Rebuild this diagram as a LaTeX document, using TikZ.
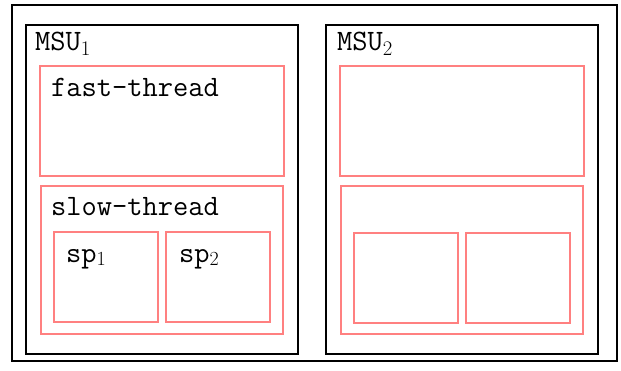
\documentclass[tikz,border=0pt]{standalone}
\begin{document}
\begin{tikzpicture}[x=1pt,y=-1pt,
  blk/.style={draw=black,line width=2.6pt},
  pnk/.style={draw=red!50,line width=2.2pt},
  lbl/.style={anchor=base west,inner sep=0pt,font=\fontsize{29.6}{34}\selectfont\ttfamily}]
\useasboundingbox (0,0) rectangle (621,371);
\fill[white] (0,0) rectangle (621,371);
% outer
\draw[blk] (12,5) rectangle (617,361);
% MSU1
\draw[blk] (26,25) rectangle (298,354);
\draw[pnk] (40,66) rectangle (284,176);
\draw[pnk] (41,186) rectangle (283,334);
\draw[pnk] (54,232) rectangle (158,322);
\draw[pnk] (166,232) rectangle (270,322);
% MSU2
\draw[blk] (326,25) rectangle (598,354);
\draw[pnk] (340,66) rectangle (584,176);
\draw[pnk] (341,186) rectangle (583,334);
\draw[pnk] (354,233) rectangle (458,323);
\draw[pnk] (466,233) rectangle (570,323);
% labels
\node[lbl] (m1) at (35,51) {MSU$_1$};
\node[lbl] (m2) at (337,51) {MSU$_2$};
\node[lbl] (ft) at (51,97) {fast-thread};
\node[lbl] (st) at (51,216) {slow-thread};
\node[lbl] (s1) at (66,263) {sp\textrm{\fontsize{20}{20}\selectfont\raisebox{-2pt}{1}}};
\node[lbl] (s2) at (179,263) {sp\textrm{\fontsize{20}{20}\selectfont\raisebox{-2pt}{2}}};
\end{tikzpicture}
\end{document}
